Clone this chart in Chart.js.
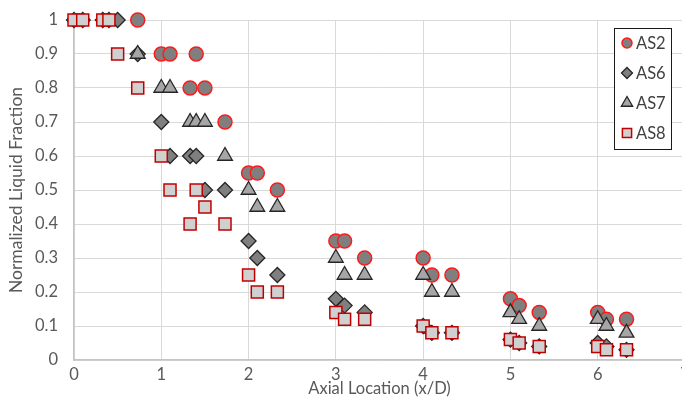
<!DOCTYPE html>
<html>
<head>
<meta charset="utf-8">
<script src="https://cdn.jsdelivr.net/npm/chart.js@4/dist/chart.umd.min.js"></script>
<style>
  html, body { margin: 0; padding: 0; background: #ffffff; overflow: hidden; }
  #wrap { width: 682px; height: 406px; overflow: hidden; }
</style>
</head>
<body>
<div id="wrap"><canvas id="c" width="695" height="406"></canvas></div>
<script>
// Normalized liquid fraction vs axial location for four test cases
const seriesNames = ['AS2', 'AS6', 'AS7', 'AS8'];

const as2X = [0.73, 1.0, 1.1, 1.33, 1.4, 1.5, 1.73, 2.0, 2.1, 2.33, 3.0, 3.1, 3.33, 4.0, 4.1, 4.33, 5.0, 5.1, 5.33, 6.0, 6.1, 6.33];
const as2Y = [1.0, 0.9, 0.9, 0.8, 0.9, 0.8, 0.7, 0.55, 0.55, 0.5, 0.35, 0.35, 0.3, 0.3, 0.25, 0.25, 0.18, 0.16, 0.14, 0.14, 0.12, 0.12];

const as6X = [0, 0.1, 0.33, 0.4, 0.5, 0.73, 1.0, 1.1, 1.33, 1.4, 1.5, 1.73, 2.0, 2.1, 2.33, 3.0, 3.1, 3.33, 4.0, 4.1, 4.33, 5.0, 5.1, 5.33, 6.0, 6.1, 6.33];
const as6Y = [1, 1, 1, 1, 1, 0.9, 0.7, 0.6, 0.6, 0.6, 0.5, 0.5, 0.35, 0.3, 0.25, 0.18, 0.16, 0.14, 0.1, 0.08, 0.08, 0.06, 0.05, 0.04, 0.05, 0.04, 0.03];

const as7X = [0.73, 1.0, 1.1, 1.33, 1.4, 1.5, 1.73, 2.0, 2.1, 2.33, 3.0, 3.1, 3.33, 4.0, 4.1, 4.33, 5.0, 5.1, 5.33, 6.0, 6.1, 6.33];
const as7Y = [0.9, 0.8, 0.8, 0.7, 0.7, 0.7, 0.6, 0.5, 0.45, 0.45, 0.3, 0.25, 0.25, 0.25, 0.2, 0.2, 0.14, 0.12, 0.1, 0.12, 0.1, 0.08];

const as8X = [0, 0.1, 0.33, 0.4, 0.5, 0.73, 1.0, 1.1, 1.33, 1.4, 1.5, 1.73, 2.0, 2.1, 2.33, 3.0, 3.1, 3.33, 4.0, 4.1, 4.33, 5.0, 5.1, 5.33, 6.0, 6.1, 6.33];
const as8Y = [1, 1, 1, 1, 0.9, 0.8, 0.6, 0.5, 0.4, 0.5, 0.45, 0.4, 0.25, 0.2, 0.2, 0.14, 0.12, 0.12, 0.1, 0.08, 0.08, 0.06, 0.05, 0.04, 0.04, 0.03, 0.03];

const xMin = 0, xMax = 7, xStep = 1;
const yMin = 0, yMax = 1, yStep = 0.1;

const FONT = 'Lato, "Open Sans", "Liberation Sans", sans-serif';
const TEXT = '#595959';

function pairs(xs, ys) {
  return xs.map((x, i) => ({ x: x, y: ys[i] }));
}

function noScalePadding(scale) {
  scale.paddingTop = 0;
  scale.paddingBottom = 0;
  scale.paddingLeft = 0;
  scale.paddingRight = 0;
}

const styles = [
  { pointStyle: 'circle',   radius: 7,   bg: '#7f7f7f', border: '#ff1a1a', bw: 1.5, lr: 5 },
  { pointStyle: 'rectRot',  radius: 7.5, bg: '#7f7f7f', border: '#262626', bw: 1.3, lr: 5.5 },
  { pointStyle: 'triangle', radius: 8.5, bg: '#a6a6a6', border: '#262626', bw: 1.3, lr: 6.5 },
  { pointStyle: 'rect',     radius: 8.5, bg: '#d0d0d0', border: '#c00000', bw: 1.5, lr: 6.5 }
];

const seriesData = [pairs(as2X, as2Y), pairs(as6X, as6Y), pairs(as7X, as7Y), pairs(as8X, as8Y)];

const datasets = seriesNames.map((name, i) => ({
  label: name,
  data: seriesData[i],
  showLine: false,
  clip: false,
  pointStyle: styles[i].pointStyle,
  pointRadius: styles[i].radius,
  pointHoverRadius: styles[i].radius,
  pointBackgroundColor: styles[i].bg,
  pointBorderColor: styles[i].border,
  pointBorderWidth: styles[i].bw,
  // later series are painted over earlier ones
  order: seriesNames.length - i
}));

// Boxed legend in the upper right of the plot
const boxLegend = {
  id: 'boxLegend',
  afterDraw(chart) {
    const ctx = chart.ctx;
    const bx = 614, by = 28, bw = 57, bh = 121;
    ctx.save();
    ctx.fillStyle = '#ffffff';
    ctx.fillRect(bx, by, bw, bh);
    ctx.strokeStyle = '#1a1a1a';
    ctx.lineWidth = 1;
    ctx.strokeRect(bx + 0.5, by + 0.5, bw, bh);
    chart.data.datasets.forEach((ds, i) => {
      const cy = by + 15 + i * 30;
      const st = styles[i];
      ctx.fillStyle = st.bg;
      ctx.strokeStyle = st.border;
      ctx.lineWidth = st.bw;
      Chart.helpers.drawPoint(ctx, { pointStyle: st.pointStyle, radius: st.lr, rotation: 0, borderWidth: st.bw }, 627, cy);
      ctx.fillStyle = '#404040';
      ctx.font = '16.5px ' + FONT;
      ctx.textBaseline = 'middle';
      ctx.textAlign = 'left';
      ctx.fillText(ds.label, 636, cy + 0.5);
    });
    ctx.restore();
  }
};

new Chart(document.getElementById('c'), {
  type: 'scatter',
  data: { datasets: datasets },
  plugins: [boxLegend],
  options: {
    responsive: false,
    animation: false,
    layout: { padding: { left: 0, right: 6, top: 20, bottom: 0 } },
    plugins: { legend: { display: false }, tooltip: { enabled: false } },
    scales: {
      x: {
        type: 'linear',
        min: xMin, max: xMax,
        ticks: { stepSize: xStep, padding: 5, color: TEXT, font: { family: FONT, size: 16.5 } },
        grid: { color: '#d9d9d9', lineWidth: 1, drawTicks: false },
        border: { color: '#c4c4c4', width: 1.5 },
        title: { display: true, text: 'Axial Location (x/D)', color: TEXT, font: { family: FONT, size: 16.5 }, padding: { top: 0, bottom: 7 } },
        afterFit(scale) { scale.height = 46; noScalePadding(scale); }
      },
      y: {
        type: 'linear',
        min: yMin, max: yMax,
        ticks: {
          stepSize: yStep, padding: 16, color: TEXT, font: { family: FONT, size: 16.5 },
          callback: v => String(Math.round(v * 10) / 10)
        },
        grid: { color: '#d9d9d9', lineWidth: 1, drawTicks: false },
        border: { color: '#c4c4c4', width: 1.5 },
        title: { display: true, text: 'Normalized Liquid Fraction', color: TEXT, font: { family: FONT, size: 17.5 }, padding: { top: 6, bottom: 0 } },
        afterFit(scale) { scale.width = 74; noScalePadding(scale); }
      }
    }
  }
});
</script>
</body>
</html>
